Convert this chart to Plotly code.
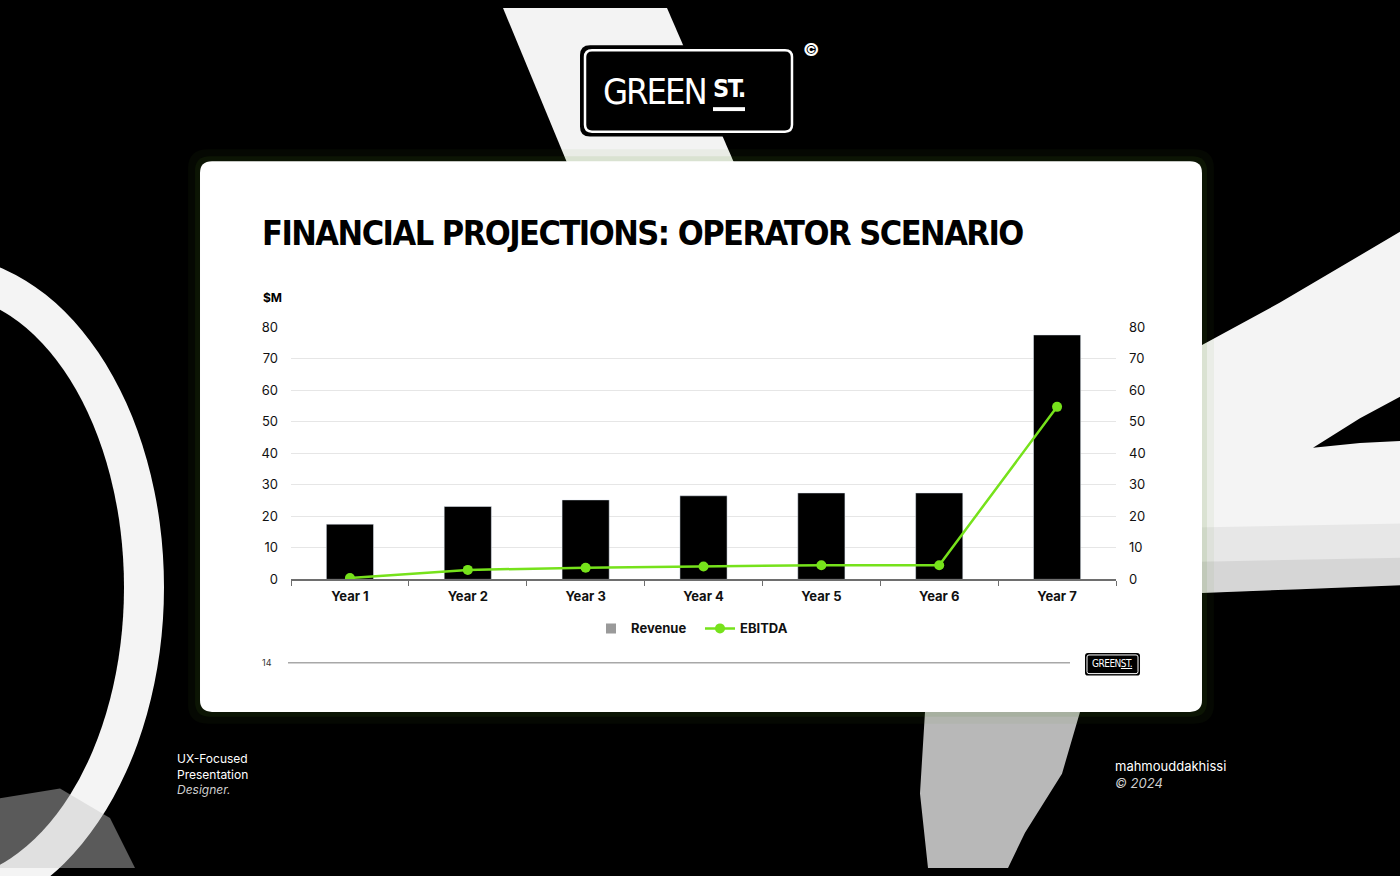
import plotly.graph_objects as go

# ---------------- data ----------------
years = ["Year 1", "Year 2", "Year 3", "Year 4", "Year 5", "Year 6", "Year 7"]
revenue = [17.5, 23.1, 25.2, 26.5, 27.4, 27.4, 77.5]
ebitda = [0.4, 3.0, 3.7, 4.1, 4.5, 4.5, 54.7]
y_ticks = [0, 10, 20, 30, 40, 50, 60, 70, 80]

W, H = 1400, 876
GREEN = "#76e21b"
NARROW = "DejaVu Sans Condensed, sans-serif"
BODY = "Inter, Open Sans, sans-serif"


def px(x):
    return x / W


def py(y):
    return 1 - y / H


def poly(points):
    return "M " + " L ".join(f"{px(x):.5f},{py(y):.5f}" for x, y in points) + " Z"


def rrect(x0, y0, x1, y1, r):
    p = lambda x, y: f"{px(x):.5f},{py(y):.5f}"
    return (f"M {p(x0 + r, y0)} L {p(x1 - r, y0)} Q {p(x1, y0)} {p(x1, y0 + r)} "
            f"L {p(x1, y1 - r)} Q {p(x1, y1)} {p(x1 - r, y1)} "
            f"L {p(x0 + r, y1)} Q {p(x0, y1)} {p(x0, y1 - r)} "
            f"L {p(x0, y0 + r)} Q {p(x0, y0)} {p(x0 + r, y0)} Z")


shapes = []


def add_path(d, fill, line_color=None, line_width=0):
    shapes.append(dict(type="path", xref="paper", yref="paper", path=d,
                       fillcolor=fill, layer="below",
                       line=dict(color=line_color or "rgba(0,0,0,0)", width=line_width)))


def add_ellipse(cx, cy, rx, ry, fill):
    shapes.append(dict(type="circle", xref="paper", yref="paper",
                       x0=px(cx - rx), x1=px(cx + rx), y0=py(cy + ry), y1=py(cy - ry),
                       fillcolor=fill, layer="below", line=dict(width=0)))


# ---------------- background decoration ----------------
add_path(poly([(503, 0), (667, 0), (735, 160), (568, 160)]), "#f3f3f3")
add_ellipse(-60, 590, 224, 338, "#f4f4f4")
add_ellipse(-60, 590, 184, 299, "#000000")
add_path(poly([(0, 805), (60, 795), (110, 825), (135, 876), (0, 876)]), "rgba(200,200,200,0.45)")
add_path(poly([(1150, 372), (1280, 300), (1400, 228), (1400, 588), (1300, 592), (1150, 598)]), "#f4f4f4")
add_path(poly([(1313, 448), (1360, 418), (1400, 396), (1400, 441), (1360, 443)]), "#000000")
add_path(poly([(1150, 530), (1400, 525), (1400, 588), (1300, 592), (1150, 598)]), "rgba(0,0,0,0.05)")
add_path(poly([(1150, 565), (1400, 560), (1400, 588), (1300, 592), (1150, 598)]), "rgba(0,0,0,0.07)")
add_path(poly([(925, 717), (1080, 717), (1062, 780), (1025, 840), (1008, 876), (928, 876), (920, 800)]),
         "rgba(225,225,225,0.82)")

add_path(rrect(188, 144, 1214, 729, 20), "rgba(80,140,30,0.06)")
add_path(rrect(195, 151, 1207, 722, 15), "rgba(80,140,30,0.10)")
add_path(rrect(200, 156, 1202, 717, 12), "#ffffff")

# logo at top
add_path(rrect(580, 38, 797, 131, 10), "#000000")
add_path(rrect(585, 43, 792, 126, 7), "#000000", "#ffffff", 2.5)
add_path(poly([(713, 101), (745, 101), (745, 105), (713, 105)]), "#ffffff")

# footer rule and small logo
shapes.append(dict(type="line", xref="paper", yref="paper",
                   x0=px(288), x1=px(1070), y0=py(667), y1=py(667),
                   line=dict(color="#a8a8a8", width=1.5), layer="below"))
add_path(rrect(1085, 657, 1140, 680, 3), "#000000")
add_path(rrect(1087, 659, 1138, 678, 2), "#000000", "#ffffff", 1)


def ann(text, x, y, size, color, family=BODY, weight=400, xanchor="left", align="left"):
    return dict(text=text, x=px(x), y=py(y), xref="paper", yref="paper",
                xanchor=xanchor, yanchor="middle", align=align, showarrow=False,
                font=dict(family=family, size=size, color=color, weight=weight))


def tight(s, ls):
    return f"<span style='letter-spacing:{ls}px'>{s}</span>"


annotations = [
    ann(tight("FINANCIAL PROJECTIONS: OPERATOR SCENARIO", -1.5), 260, 229, 34, "#000000", NARROW, 700),
    ann("$M", 261, 295, 12, "#000000", weight=700),
    ann(tight("GREEN", -2), 601, 85, 36, "#ffffff", NARROW, 400),
    ann(tight("ST.", -1.5), 711, 82, 25, "#ffffff", NARROW, 700),
    ann("©", 811, 42, 18, "#ffffff", weight=700, xanchor="center"),
    ann("14", 260, 667, 9, "#333333"),
    ann(tight("GREEN<u>ST.</u>", -0.5), 1112, 668, 10, "#ffffff", NARROW, 400, xanchor="center"),
    ann("UX-Focused<br>Presentation<br><i><span style='color:#cfcfcf'>Designer.</span></i>",
        175, 780, 12, "#ffffff"),
    ann("mahmouddakhissi<br><i><span style='color:#cfcfcf'>© 2024</span></i>",
        1113, 781, 13, "#ffffff"),
]

# ---------------- traces ----------------
fig = go.Figure()
fig.add_trace(go.Bar(x=years, y=revenue, name="Revenue", marker=dict(color="#000000"),
                     width=0.4, showlegend=False))
fig.add_trace(go.Scatter(x=[None], y=[None], mode="markers", name="Revenue",
                         marker=dict(symbol="square", size=10, color="#9a9a9a")))
fig.add_trace(go.Scatter(x=years, y=ebitda, name="EBITDA", mode="lines+markers", yaxis="y2",
                         line=dict(color=GREEN, width=2.5),
                         marker=dict(color=GREEN, size=10)))

y_common = dict(range=[0, 80], tickvals=y_ticks, ticktext=[str(v) for v in y_ticks],
                tickfont=dict(family=BODY, size=13, color="#111111"),
                zeroline=False, showline=False, ticklabelstandoff=12, fixedrange=True)

fig.update_layout(
    width=W, height=H, margin=dict(l=0, r=0, t=0, b=0),
    paper_bgcolor="#000000", plot_bgcolor="rgba(0,0,0,0)",
    shapes=shapes, annotations=annotations,
    xaxis=dict(domain=[px(291), px(1116)], type="category", categoryorder="array",
               categoryarray=years, range=[-0.5, 6.5],
               showline=True, linecolor="#6e6e6e", linewidth=1.5,
               ticks="outside", tickson="boundaries", ticklen=5, tickcolor="#6e6e6e",
               tickwidth=1.2, showgrid=False, ticklabelstandoff=4, fixedrange=True,
               tickfont=dict(family=BODY, size=13, color="#111111", weight=700)),
    yaxis=dict(domain=[py(582), py(325)], showgrid=True, gridcolor="#e6e6e6", gridwidth=1,
               **y_common),
    yaxis2=dict(overlaying="y", side="right", showgrid=False, **y_common),
    legend=dict(orientation="h", x=px(700), y=py(632), xanchor="center", yanchor="middle",
                bgcolor="rgba(0,0,0,0)", itemwidth=30, entrywidth=64,
                font=dict(family=BODY, size=13, color="#111111", weight=700)),
    showlegend=True,
)

post = ("var s=document.createElement('style');"
        "s.textContent='html,body{margin:0!important;padding:0!important;overflow:hidden;"
        "background:#000;width:1400px;height:876px}';"
        "document.head.appendChild(s);")

fig.write_html("out.html", config={"displayModeBar": False}, post_script=post)
